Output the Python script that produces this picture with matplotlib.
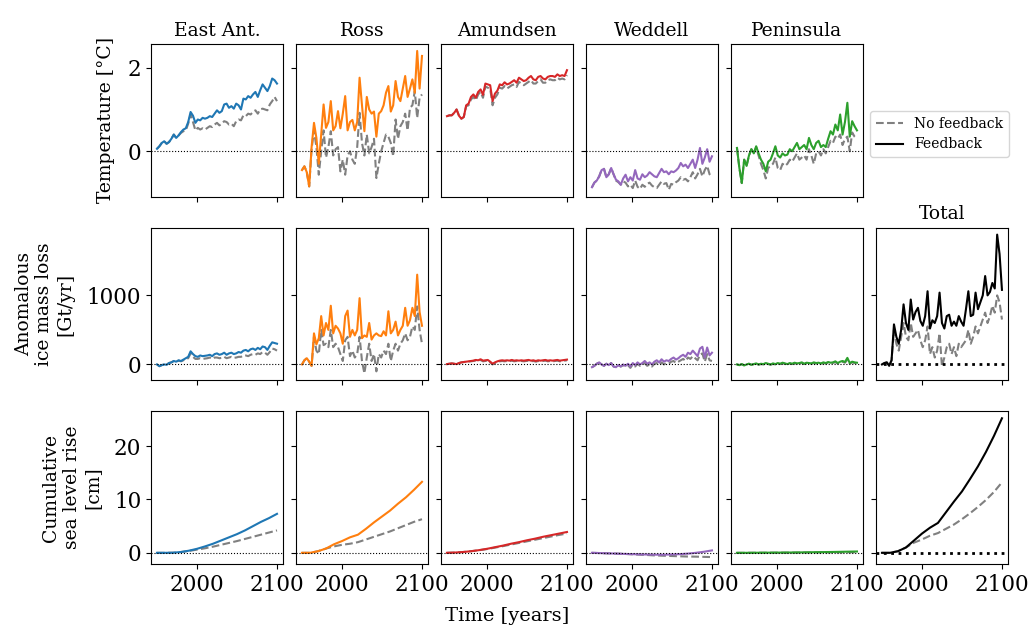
import matplotlib
matplotlib.use("Agg")
import matplotlib.pyplot as plt
import numpy as np

plt.rcParams['font.family'] = ['DejaVu Serif']
plt.rcParams['font.size'] = 14
plt.rcParams['xtick.labelsize'] = 15.5
plt.rcParams['ytick.labelsize'] = 15.5

# yearly axis (3-year sampling) for temperature and mass loss, decadal for sea level
years = list(range(1950, 2101, 3))
slr_years = list(range(1950, 2101, 10))

regions = ['East Ant.', 'Ross', 'Amundsen', 'Weddell', 'Peninsula']
colors = ['tab:blue', 'tab:orange', 'tab:red', 'tab:purple', 'tab:green']

# ---- temperature [°C]
temp_east_fb = [0.06, 0.12, 0.20, 0.24, 0.18, 0.22, 0.30, 0.40, 0.32, 0.38,
                0.46, 0.52, 0.55, 0.70, 0.94, 0.85, 0.68, 0.76, 0.74, 0.80,
                0.78, 0.80, 0.84, 0.82, 0.90, 0.98, 0.92, 0.96, 1.12, 1.14,
                1.04, 1.08, 1.02, 1.14, 1.10, 1.00, 1.26, 1.24, 1.32, 1.28,
                1.36, 1.42, 1.30, 1.46, 1.60, 1.52, 1.44, 1.56, 1.74, 1.70, 1.62]
temp_east_nf = [0.06, 0.12, 0.20, 0.24, 0.18, 0.22, 0.30, 0.40, 0.32, 0.38,
                0.44, 0.48, 0.50, 0.66, 0.88, 0.70, 0.50, 0.56, 0.52, 0.55,
                0.52, 0.56, 0.60, 0.58, 0.64, 0.68, 0.62, 0.66, 0.72, 0.70,
                0.64, 0.66, 0.60, 0.72, 0.76, 0.74, 0.86, 0.84, 0.90, 0.88,
                0.94, 0.98, 0.90, 1.00, 1.02, 1.00, 0.98, 1.12, 1.20, 1.30, 1.20]
temp_ross_fb = [-0.45, -0.36, -0.50, -0.84, 0.10, 0.68, 0.32, -0.30, 0.40, 1.12,
                0.56, 0.70, 1.20, 0.50, 0.60, 0.96, 0.55, 0.90, 1.32, 0.50,
                0.70, 0.75, 0.50, 0.70, 1.76, 1.10, 0.48, 1.30, 1.00, 0.90,
                0.95, 0.35, 0.90, 0.96, 1.10, 1.40, 1.56, 0.95, 1.10, 1.68,
                1.30, 1.20, 1.50, 1.80, 1.30, 1.50, 1.72, 1.40, 2.40, 1.50, 2.28]
temp_ross_nf = [-0.45, -0.36, -0.50, -0.84, 0.05, 0.50, 0.10, -0.56, 0.00, 0.50,
                -0.15, 0.10, 0.48, -0.10, 0.05, 0.10, -0.48, -0.20, -0.56, -0.10,
                0.00, -0.20, -0.30, 0.10, 0.92, 0.20, -0.10, 0.40, -0.05, 0.10,
                0.30, -0.64, -0.30, 0.00, 0.20, 0.40, 0.35, 0.20, -0.12, 0.76,
                0.30, 0.60, 0.70, 0.90, 0.50, 1.04, 1.10, 1.44, 0.80, 1.28, 1.36]
temp_amun_fb = [0.84, 0.86, 0.86, 0.92, 1.00, 0.85, 0.78, 0.82, 1.10, 1.14,
                1.30, 1.36, 1.28, 1.42, 1.48, 1.35, 1.62, 1.60, 1.58, 1.20,
                1.38, 1.45, 1.60, 1.58, 1.65, 1.60, 1.62, 1.66, 1.70, 1.64,
                1.76, 1.72, 1.68, 1.70, 1.76, 1.80, 1.72, 1.70, 1.78, 1.80,
                1.74, 1.72, 1.78, 1.80, 1.80, 1.78, 1.84, 1.80, 1.82, 1.80, 1.94]
temp_amun_nf = [0.84, 0.86, 0.86, 0.92, 1.00, 0.85, 0.78, 0.82, 1.08, 1.10,
                1.24, 1.30, 1.22, 1.36, 1.42, 1.28, 1.55, 1.52, 1.50, 1.10,
                1.28, 1.36, 1.52, 1.50, 1.56, 1.50, 1.54, 1.58, 1.60, 1.54,
                1.66, 1.62, 1.58, 1.62, 1.66, 1.70, 1.62, 1.62, 1.68, 1.72,
                1.64, 1.64, 1.70, 1.72, 1.70, 1.70, 1.76, 1.72, 1.74, 1.72, 1.82]
temp_wedd_fb = [-0.86, -0.75, -0.70, -0.60, -0.45, -0.42, -0.62, -0.55, -0.40, -0.55,
                -0.68, -0.72, -0.80, -0.65, -0.56, -0.72, -0.62, -0.70, -0.45, -0.65,
                -0.68, -0.55, -0.62, -0.58, -0.50, -0.55, -0.60, -0.62, -0.52, -0.42,
                -0.50, -0.48, -0.55, -0.48, -0.50, -0.46, -0.40, -0.28, -0.36, -0.32,
                -0.40, -0.30, -0.20, -0.40, -0.20, 0.08, -0.30, -0.15, 0.05, -0.25, -0.12]
temp_wedd_nf = [-0.86, -0.75, -0.70, -0.60, -0.45, -0.42, -0.62, -0.55, -0.40, -0.55,
                -0.70, -0.74, -0.80, -0.72, -0.75, -0.84, -0.80, -0.88, -0.70, -0.85,
                -0.90, -0.80, -0.85, -0.78, -0.75, -0.82, -0.86, -0.88, -0.80, -0.72,
                -0.78, -0.76, -0.92, -0.78, -0.80, -0.74, -0.70, -0.62, -0.68, -0.66,
                -0.72, -0.62, -0.50, -0.65, -0.55, -0.42, -0.60, -0.45, -0.35, -0.55, -0.62]
temp_pen_fb = [0.08, -0.40, -0.76, -0.20, -0.35, -0.10, 0.05, -0.05, 0.12, -0.05,
               -0.20, -0.30, -0.48, -0.25, -0.20, -0.05, 0.12, -0.10, -0.15, -0.05,
               -0.10, -0.08, 0.05, 0.00, 0.10, 0.20, 0.05, 0.10, 0.15, 0.05,
               0.32, 0.15, 0.05, 0.20, 0.25, 0.10, 0.15, 0.10, 0.30, 0.48,
               0.40, 0.64, 0.50, 0.88, 0.40, 0.70, 1.16, 0.35, 0.72, 0.60, 0.50]
temp_pen_nf = [0.08, -0.40, -0.76, -0.20, -0.35, -0.10, 0.05, -0.05, 0.10, -0.10,
               -0.30, -0.45, -0.65, -0.40, -0.35, -0.30, -0.15, -0.40, -0.45, -0.30,
               -0.35, -0.30, -0.20, -0.25, -0.15, -0.05, -0.20, -0.15, -0.10, -0.20,
               0.05, -0.10, -0.30, -0.05, 0.00, -0.10, 0.05, -0.05, 0.10, 0.25,
               0.20, 0.35, 0.30, 0.40, 0.15, 0.30, 0.35, 0.00, 0.45, 0.35, 0.30]

# ---- anomalous ice mass loss [Gt/yr]
mass_east_fb = [0, -25, -10, 0, -5, 20, 30, 50, 40, 60,
                50, 70, 90, 110, 190, 150, 120, 110, 130, 120,
                125, 130, 140, 120, 150, 160, 140, 150, 170, 140,
                160, 170, 150, 160, 180, 170, 200, 210, 190, 220,
                230, 210, 240, 220, 260, 250, 210, 270, 320, 310, 300]
mass_east_nf = [0, -25, -10, 0, -5, 20, 30, 50, 40, 55,
                45, 60, 75, 90, 160, 110, 80, 80, 90, 80,
                85, 90, 100, 80, 100, 100, 90, 95, 110, 90,
                100, 110, 95, 100, 110, 110, 130, 130, 120, 140,
                150, 140, 160, 150, 180, 170, 140, 180, 230, 220, 200]
mass_ross_fb = [0, 60, 90, 40, -20, 450, 290, 380, 700, 420,
                600, 500, 850, 450, 560, 520, 450, 300, 700, 780,
                400, 500, 420, 500, 960, 380, 420, 400, 600, 360,
                420, 450, 420, 410, 480, 420, 770, 450, 500, 620,
                420, 500, 560, 820, 560, 640, 820, 700, 1300, 760, 560]
mass_ross_nf = [0, 60, 90, 40, -20, 400, 200, 150, 500, 280,
                300, 250, 500, 250, 300, 250, 150, 50, 350, 400,
                120, 200, 100, 150, 400, 50, -130, 100, 300, 50,
                150, -100, 150, 100, 200, 150, 300, 50, 200, 300,
                200, 300, 350, 450, 350, 400, 550, 500, 840, 500, 300]
mass_amun_fb = [5, 10, 15, 10, 5, 20, 30, 35, 40, 45,
                50, 55, 65, 60, 75, 55, 60, 65, 40, 10,
                30, 45, 55, 60, 55, 60, 55, 65, 55, 60,
                55, 60, 55, 60, 65, 55, 60, 50, 60, 55,
                60, 65, 55, 60, 55, 60, 65, 55, 60, 65, 70]
mass_amun_nf = [5, 10, 15, 10, 5, 20, 30, 35, 38, 42,
                45, 50, 58, 52, 65, 45, 50, 55, 30, 0,
                20, 35, 45, 50, 45, 50, 45, 55, 45, 50,
                45, 50, 45, 50, 55, 45, 50, 40, 50, 45,
                50, 55, 45, 50, 45, 50, 55, 45, 50, 55, 60]
mass_wedd_fb = [-40, -20, 10, 30, 0, -20, 10, -10, 20, -30,
                -40, -10, -30, 0, -20, 10, -30, 20, -10, 30,
                0, 20, 50, 10, 30, 0, 40, 60, 30, 75,
                40, 60, 50, 80, 100, 70, 90, 120, 140, 110,
                170, 150, 200, 160, 120, 230, 255, 100, 245, 130, 170]
mass_wedd_nf = [-40, -20, 10, 30, 0, -20, 10, -10, 20, -30,
                -40, -10, -30, -10, -30, -10, -50, 0, -30, 10,
                -20, 0, 20, -20, 0, -30, 10, 20, -10, 30,
                0, 20, 10, 40, 50, 20, 40, 60, 80, 50,
                100, 80, 120, 90, 60, 140, 160, 40, 150, 60, 50]
mass_pen_fb = [0, -10, 5, -15, 0, 10, -5, 5, 15, 0,
               10, 5, 20, 10, 0, 15, 5, 20, 10, 25,
               15, 5, 20, 10, 25, 15, 20, 30, 10, 25,
               20, 15, 30, 20, 25, 15, 30, 20, 35, 25,
               30, 45, 20, 40, 50, 35, 95, 20, 40, 30, 25]
mass_pen_nf = [0, -10, 5, -15, 0, 10, -5, 5, 12, -5,
               5, 0, 12, 5, -5, 8, 0, 12, 5, 18,
               8, 0, 12, 5, 18, 8, 12, 22, 5, 18,
               12, 8, 22, 12, 18, 8, 22, 12, 25, 18,
               22, 32, 12, 28, 38, 25, 70, 12, 30, 20, 18]
mass_total_fb = [0, 20, 30, -20, 60, 580, 400, 300, 500, 870,
                 600, 500, 940, 650, 760, 820, 630, 560, 700, 1060,
                 520, 640, 600, 700, 1040, 600, 520, 700, 720, 560,
                 620, 560, 700, 620, 560, 800, 1060, 700, 720, 1040,
                 800, 900, 1000, 1280, 1000, 1050, 1180, 1100, 1880, 1600, 1080]
mass_total_nf = [0, 20, 30, -20, 60, 500, 300, 200, 400, 600,
                 400, 350, 600, 400, 450, 500, 350, 250, 350, 550,
                 150, 250, 100, 200, 450, -30, 100, 250, 300, 150,
                 250, 120, 300, 250, 300, 350, 500, 300, 400, 550,
                 450, 550, 650, 750, 600, 700, 850, 750, 1000, 900, 650]

# ---- cumulative sea level rise [cm]
slr_east_fb = [0, 0, 0.02, 0.15, 0.4, 0.75, 1.2, 1.7, 2.3, 2.9, 3.5, 4.2, 5.0, 5.8, 6.5, 7.3]
slr_east_nf = [0, 0, 0.02, 0.15, 0.35, 0.6, 0.85, 1.15, 1.5, 1.85, 2.2, 2.6, 3.0, 3.4, 3.8, 4.2]
slr_ross_fb = [0, 0, 0.3, 0.8, 1.6, 2.2, 2.9, 3.4, 4.5, 5.7, 6.8, 7.9, 9.2, 10.4, 11.8, 13.3]
slr_ross_nf = [0, 0, 0.3, 0.8, 1.2, 1.5, 1.7, 2.0, 2.5, 3.0, 3.5, 4.0, 4.6, 5.2, 5.8, 6.3]
slr_amun_fb = [0, 0.05, 0.15, 0.3, 0.5, 0.75, 1.05, 1.35, 1.7, 2.0, 2.35, 2.65, 3.0, 3.3, 3.6, 3.9]
slr_amun_nf = [0, 0.05, 0.15, 0.3, 0.48, 0.7, 0.97, 1.25, 1.55, 1.85, 2.15, 2.45, 2.75, 3.05, 3.35, 3.6]
slr_wedd_fb = [0, -0.05, -0.1, -0.15, -0.2, -0.25, -0.3, -0.32, -0.35, -0.35, -0.3, -0.25, -0.15, 0.0, 0.2, 0.45]
slr_wedd_nf = [0, -0.05, -0.1, -0.15, -0.2, -0.28, -0.35, -0.42, -0.5, -0.55, -0.6, -0.65, -0.7, -0.72, -0.76, -0.8]
slr_pen_fb = [0, 0, 0.01, 0.02, 0.03, 0.04, 0.05, 0.06, 0.08, 0.1, 0.12, 0.14, 0.16, 0.19, 0.22, 0.25]
slr_pen_nf = [0, 0, 0.01, 0.02, 0.02, 0.03, 0.03, 0.04, 0.05, 0.06, 0.07, 0.08, 0.09, 0.1, 0.11, 0.12]
slr_total_fb = [0, 0, 0.3, 1.0, 2.3, 3.6, 4.7, 5.6, 7.6, 9.6, 11.5, 13.8, 16.2, 18.9, 21.9, 25.2]
slr_total_nf = [0, 0, 0.3, 1.0, 1.9, 2.5, 3.2, 3.7, 4.5, 5.3, 6.3, 7.4, 8.6, 9.9, 11.4, 13.2]

temp_fb = [temp_east_fb, temp_ross_fb, temp_amun_fb, temp_wedd_fb, temp_pen_fb]
temp_nf = [temp_east_nf, temp_ross_nf, temp_amun_nf, temp_wedd_nf, temp_pen_nf]
mass_fb = [mass_east_fb, mass_ross_fb, mass_amun_fb, mass_wedd_fb, mass_pen_fb, mass_total_fb]
mass_nf = [mass_east_nf, mass_ross_nf, mass_amun_nf, mass_wedd_nf, mass_pen_nf, mass_total_nf]
slr_fb = [slr_east_fb, slr_ross_fb, slr_amun_fb, slr_wedd_fb, slr_pen_fb, slr_total_fb]
slr_nf = [slr_east_nf, slr_ross_nf, slr_amun_nf, slr_wedd_nf, slr_pen_nf, slr_total_nf]
colors6 = colors + ['black']

fig, axes = plt.subplots(3, 6, figsize=(10.3, 6.26), dpi=100, sharex=True, sharey='row')
fig.subplots_adjust(left=0.1466, right=0.9786, top=0.9297, bottom=0.099,
                    wspace=0.0985, hspace=0.203)

for i in range(5):
    ax = axes[0, i]
    ax.plot(years, temp_nf[i], '--', color='gray', lw=1.5)
    ax.plot(years, temp_fb[i], color=colors[i], lw=1.5)
    ax.axhline(0, color='black', ls=':', lw=0.8)
    ax.set_title(regions[i], fontsize=13.5)
axes[0, 5].axis('off')

for i in range(6):
    lw0 = 2 if i == 5 else 0.8
    ax = axes[1, i]
    ax.plot(years, mass_nf[i], '--', color='gray', lw=1.5)
    ax.plot(years, mass_fb[i], color=colors6[i], lw=1.5)
    ax.axhline(0, color='black', ls=':', lw=lw0)
    ax = axes[2, i]
    ax.plot(slr_years, slr_nf[i], '--', color='gray', lw=1.5)
    ax.plot(slr_years, slr_fb[i], color=colors6[i], lw=1.5)
    ax.axhline(0, color='black', ls=':', lw=lw0)
axes[1, 5].set_title('Total', fontsize=13.5)
axes[1, 5].tick_params(labelleft=False)
axes[2, 5].tick_params(labelleft=False)

axes[0, 0].set_ylabel('Temperature [°C]', fontsize=13.5, labelpad=9)
axes[1, 0].set_ylabel('Anomalous\nice mass loss\n[Gt/yr]', fontsize=13.5, labelpad=9)
axes[2, 0].set_ylabel('Cumulative\nsea level rise\n[cm]', fontsize=13.5, labelpad=9)
axes[2, 2].set_xlabel('Time [years]', labelpad=8)
axes[0, 0].set_yticks([0, 2])
axes[1, 0].set_yticks([0, 1000])
axes[2, 0].set_yticks([0, 10, 20])
axes[2, 0].set_xticks([2000, 2100])

handles = [plt.Line2D([], [], color='gray', ls='--', lw=1.5),
           plt.Line2D([], [], color='black', lw=1.5)]
fig.legend(handles, ['No feedback', 'Feedback'], loc='upper left',
           bbox_to_anchor=(863 / 1030, 1 - 104 / 626), fontsize=10)

fig.savefig('out.png', dpi=100)
